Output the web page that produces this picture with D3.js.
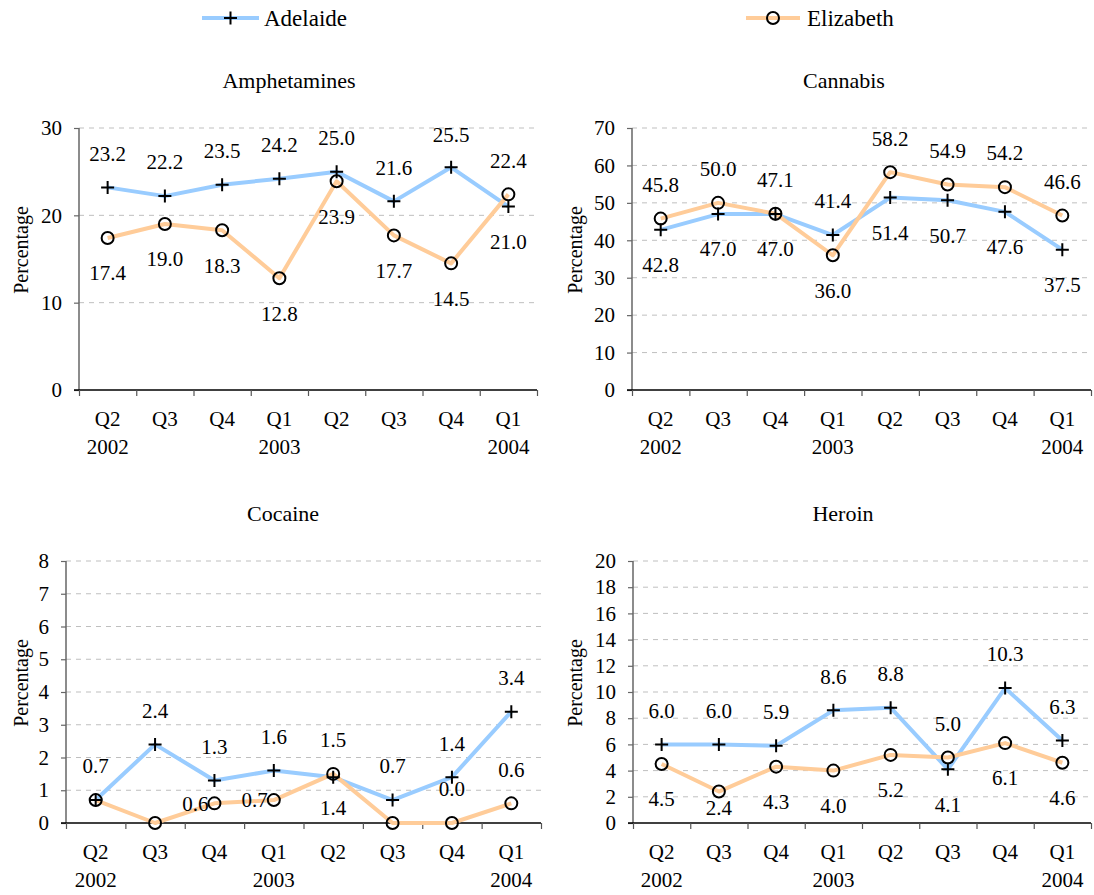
<!DOCTYPE html>
<html>
<head>
<meta charset="utf-8">
<script src="https://cdn.jsdelivr.net/npm/d3@7"></script>
<style>
  html, body { margin: 0; padding: 0; background: #fff; }
</style>
</head>
<body>
<svg id="chart" width="1094" height="895"></svg>
<script>
// ---------- Data ----------
const quarters = ["Q2", "Q3", "Q4", "Q1", "Q2", "Q3", "Q4", "Q1"];
const years    = ["2002", "", "", "2003", "", "", "", "2004"];
const seriesNames = ["Adelaide", "Elizabeth"];

const amphetaminesAdelaide  = [23.2, 22.2, 23.5, 24.2, 25.0, 21.6, 25.5, 21.0];
const amphetaminesElizabeth = [17.4, 19.0, 18.3, 12.8, 23.9, 17.7, 14.5, 22.4];
const cannabisAdelaide      = [42.8, 47.0, 47.0, 41.4, 51.4, 50.7, 47.6, 37.5];
const cannabisElizabeth     = [45.8, 50.0, 47.1, 36.0, 58.2, 54.9, 54.2, 46.6];
const cocaineAdelaide       = [0.7, 2.4, 1.3, 1.6, 1.4, 0.7, 1.4, 3.4];
const cocaineElizabeth      = [0.7, 0.0, 0.6, 0.7, 1.5, 0.0, 0.0, 0.6];
const heroinAdelaide        = [6.0, 6.0, 5.9, 8.6, 8.8, 4.1, 10.3, 6.3];
const heroinElizabeth       = [4.5, 2.4, 4.3, 4.0, 5.2, 5.0, 6.1, 4.6];

const amphetaminesTicks = [0, 10, 20, 30];
const cannabisTicks     = [0, 10, 20, 30, 40, 50, 60, 70];
const cocaineTicks      = [0, 1, 2, 3, 4, 5, 6, 7, 8];
const heroinTicks       = [0, 2, 4, 6, 8, 10, 12, 14, 16, 18, 20];

// ---------- Layout / style ----------
const FONT = "'Liberation Serif', 'Times New Roman', serif";
const COLORS = { Adelaide: "#99CCFF", Elizabeth: "#FFCC99" };
const FONT_TICK = 21, FONT_TITLE = 22, FONT_YLAB = 20, FONT_LEGEND = 23;

// label placement codes: a = above, b = below, l = left, - = hidden
const panels = [
  { title: "Amphetamines", adel: amphetaminesAdelaide, eliz: amphetaminesElizabeth, ticks: amphetaminesTicks,
    left: 79, right: 537, top: 128, bottom: 390, titleX: 289, titleY: 80, ylabX: 21, ylabY: 250,
    adelPos: "aaaaaaab", elizPos: "bbbbbbba" },
  { title: "Cannabis", adel: cannabisAdelaide, eliz: cannabisElizabeth, ticks: cannabisTicks,
    left: 632, right: 1091, top: 128, bottom: 390, titleX: 844, titleY: 80, ylabX: 575, ylabY: 250,
    adelPos: "bbbabbbb", elizPos: "aaabaaaa" },
  { title: "Cocaine", adel: cocaineAdelaide, eliz: cocaineElizabeth, ticks: cocaineTicks,
    left: 66, right: 541, top: 561, bottom: 823, titleX: 283, titleY: 513, ylabX: 21, ylabY: 683,
    adelPos: "aaaabaaa", elizPos: "--lla-aa" },
  { title: "Heroin", adel: heroinAdelaide, eliz: heroinElizabeth, ticks: heroinTicks,
    left: 633, right: 1091, top: 561, bottom: 823, titleX: 843, titleY: 513, ylabX: 575, ylabY: 683,
    adelPos: "aaaaabaa", elizPos: "bbbbbabb" }
];

const svg = d3.select("#chart").attr("font-family", FONT);

// ---------- Legend ----------
const legendItems = [
  { name: seriesNames[0], x1: 202, x2: 259, text: 264, marker: "plus" },
  { name: seriesNames[1], x1: 746, x2: 800, text: 807, marker: "circle" }
];
const legendY = 18;
legendItems.forEach(it => {
  const g = svg.append("g");
  g.append("line").attr("x1", it.x1).attr("x2", it.x2).attr("y1", legendY).attr("y2", legendY)
    .attr("stroke", COLORS[it.name]).attr("stroke-width", 4);
  drawMarker(g, it.marker, (it.x1 + it.x2) / 2, legendY);
  g.append("text").attr("x", it.text).attr("y", legendY).attr("dy", "0.35em")
    .attr("font-family", FONT).attr("font-size", FONT_LEGEND).text(it.name);
});

function drawMarker(g, type, cx, cy) {
  if (type === "plus") {
    g.append("path")
      .attr("d", `M${cx - 6.5},${cy}H${cx + 6.5}M${cx},${cy - 6.5}V${cy + 6.5}`)
      .attr("stroke", "#000").attr("stroke-width", 2).attr("fill", "none");
  } else {
    g.append("circle").attr("cx", cx).attr("cy", cy).attr("r", 6)
      .attr("fill", "none").attr("stroke", "#000").attr("stroke-width", 2);
  }
}

// ---------- Panels ----------
panels.forEach(p => {
  const g = svg.append("g");
  const n = quarters.length;
  const x = d3.scaleBand().domain(d3.range(n)).range([p.left, p.right]).paddingInner(0).paddingOuter(0);
  const xb = d3.scaleLinear().domain([0, n]).range([p.left, p.right]);
  const yMax = d3.max(p.ticks);
  const y = d3.scaleLinear().domain([0, yMax]).range([p.bottom, p.top]);
  const cx = i => x(i) + x.bandwidth() / 2;

  // title
  g.append("text").attr("x", p.titleX).attr("y", p.titleY).attr("dy", "0.35em")
    .attr("font-family", FONT).attr("text-anchor", "middle").attr("font-size", FONT_TITLE).text(p.title);

  // y-axis title
  g.append("text").attr("transform", `translate(${p.ylabX},${p.ylabY}) rotate(-90)`)
    .attr("font-family", FONT).attr("dy", "0.35em").attr("text-anchor", "middle")
    .attr("font-size", FONT_YLAB).text("Percentage");

  // gridlines
  g.append("g").selectAll("line").data(p.ticks.filter(t => t > 0)).join("line")
    .attr("x1", p.left).attr("x2", p.right)
    .attr("y1", d => y(d)).attr("y2", d => y(d))
    .attr("stroke", "#BFBFBF").attr("stroke-width", 1).attr("stroke-dasharray", "5,5");

  // y axis
  const ya = g.append("g").attr("transform", `translate(${p.left},0)`)
    .call(d3.axisLeft(y).tickValues(p.ticks).tickSize(5).tickPadding(12).tickFormat(d3.format("d")));
  ya.attr("font-family", FONT).attr("font-size", FONT_TICK);
  ya.select(".domain").attr("stroke", "#666").attr("stroke-width", 1.5).attr("d", `M0,${p.top}V${p.bottom}`);
  ya.selectAll(".tick line").attr("stroke", "#666").attr("stroke-width", 1.2);
  ya.selectAll(".tick text").attr("fill", "#000");

  // x axis (ticks at category boundaries)
  const xa = g.append("g").attr("transform", `translate(0,${p.bottom})`)
    .call(d3.axisBottom(xb).tickValues(d3.range(n + 1)).tickSize(6).tickFormat(""));
  xa.select(".domain").attr("stroke", "#000").attr("stroke-width", 1.5).attr("d", `M${p.left - 5},0H${p.right}`);
  xa.selectAll(".tick line").attr("stroke", "#555").attr("stroke-width", 1.2);

  // category labels
  const qY = p.bottom + 29, yrY = p.bottom + 57;
  g.append("g").selectAll("text").data(quarters).join("text")
    .attr("x", (d, i) => cx(i)).attr("y", qY).attr("dy", "0.35em")
    .attr("font-family", FONT).attr("text-anchor", "middle").attr("font-size", FONT_TICK).text(d => d);
  g.append("g").selectAll("text").data(years).join("text")
    .attr("x", (d, i) => cx(i)).attr("y", yrY).attr("dy", "0.35em")
    .attr("font-family", FONT).attr("text-anchor", "middle").attr("font-size", FONT_TICK).text(d => d);

  const line = d3.line().x((d, i) => cx(i)).y(d => y(d));
  const series = [
    { name: "Adelaide", values: p.adel, marker: "plus", pos: p.adelPos },
    { name: "Elizabeth", values: p.eliz, marker: "circle", pos: p.elizPos }
  ];

  series.forEach(s => {
    g.append("path").datum(s.values).attr("d", line)
      .attr("fill", "none").attr("stroke", COLORS[s.name]).attr("stroke-width", 4)
      .attr("stroke-linejoin", "round");
  });
  series.forEach(s => {
    const mg = g.append("g");
    s.values.forEach((v, i) => drawMarker(mg, s.marker, cx(i), y(v)));
  });
  series.forEach(s => {
    s.values.forEach((v, i) => {
      const code = s.pos[i];
      if (code === "-") return;
      let lx = cx(i), ly = y(v), anchor = "middle";
      if (code === "a") ly = ly - 34;
      else if (code === "b") ly = ly + 35;
      else if (code === "l") { lx = lx - 6; anchor = "end"; }
      ly = Math.min(ly, p.bottom - 15);
      ly = Math.max(ly, p.top + 7);
      g.append("text").attr("x", lx).attr("y", ly).attr("dy", "0.35em")
        .attr("font-family", FONT).attr("text-anchor", anchor).attr("font-size", FONT_TICK)
        .text(d3.format(".1f")(v));
    });
  });
});
</script>
</body>
</html>
